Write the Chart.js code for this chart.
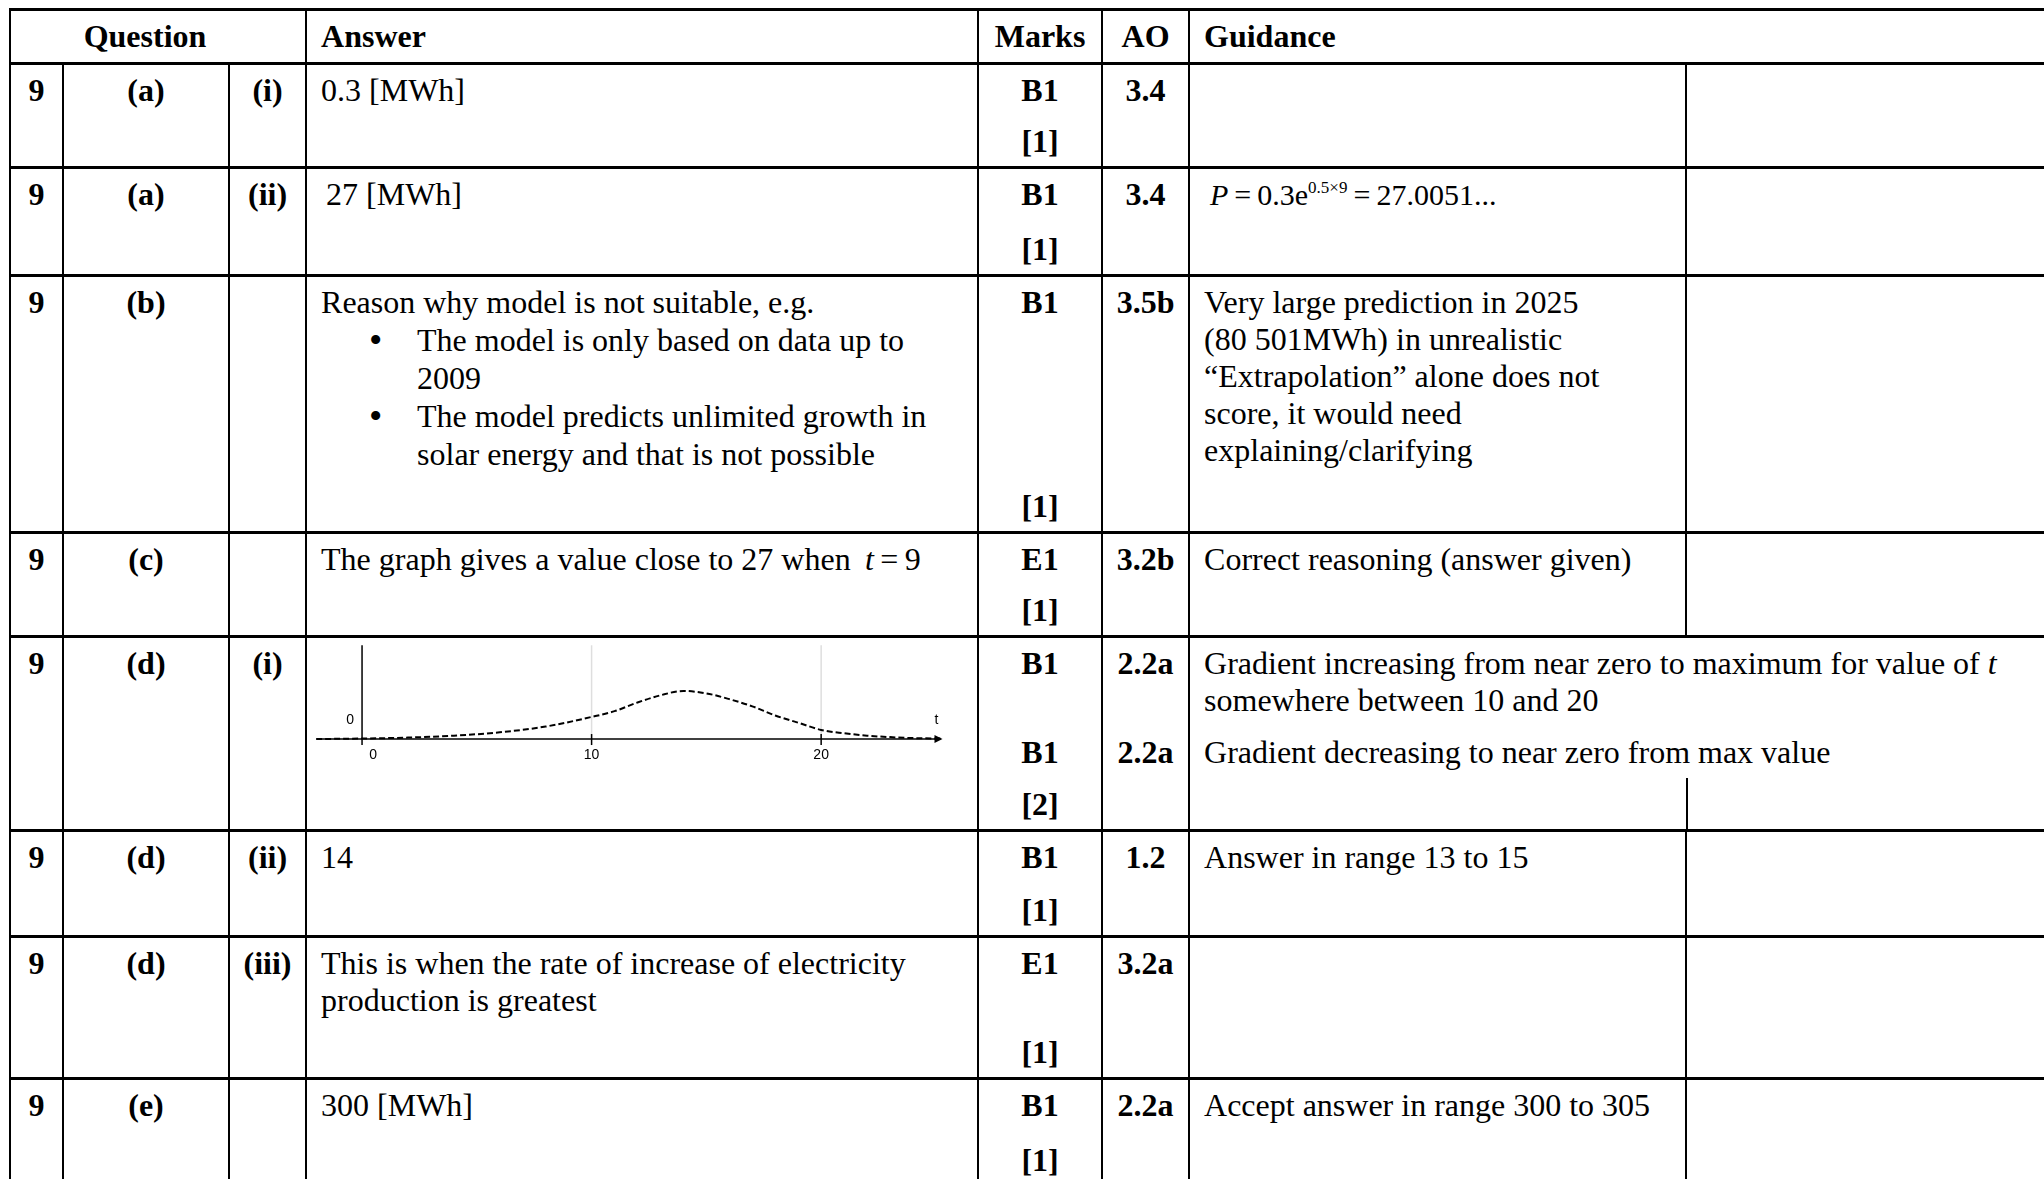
<!DOCTYPE html>
<html>
<head>
<meta charset="utf-8">
<script src="https://cdn.jsdelivr.net/npm/chart.js@4.4.1/dist/chart.umd.min.js"></script>
<style>
  html, body { margin: 0; padding: 0; background: #fff; }
  body { width: 2044px; height: 1179px; overflow: hidden; position: relative;
         font-family: "Liberation Serif", "Times New Roman", serif; font-size: 32px; color: #000; }
  table { position: absolute; left: 9px; top: 8px; border-collapse: collapse; table-layout: fixed; width: 2080px; }
  td { border-top: 3px solid #000; border-bottom: 3px solid #000; border-left: 2px solid #000; border-right: 2px solid #000;
       vertical-align: top; padding: 7px 0 0 0; line-height: 37px; position: relative; }
  .b { font-weight: bold; }
  .c { text-align: center; }
  .l { padding-left: 14px; }
  .bot { position: absolute; left: 0; right: 0; bottom: 6px; text-align: center; font-weight: bold; }
  .mid { position: absolute; left: 0; right: 0; top: 96px; }
  .bul { position: relative; padding-left: 96px; line-height: 38px; }
  .bul:before { content: "\2022"; position: absolute; left: 48px; font-size: 38px; }
  .split { position: absolute; left: 496px; top: 140px; bottom: -2px; width: 2px; background: #000; }
  #chartBox { position: absolute; left: 312px; top: 640px; width: 640px; height: 150px; z-index: 2; }
</style>
</head>
<body>
<table>
  <colgroup>
    <col style="width:53px"><col style="width:166px"><col style="width:77px"><col style="width:672px">
    <col style="width:124px"><col style="width:87px"><col style="width:497px"><col style="width:404px">
  </colgroup>
  <tr style="height:54px">
    <td colspan="3" class="b c" style="padding-right:26px">Question</td>
    <td class="b l">Answer</td>
    <td class="b c">Marks</td>
    <td class="b c">AO</td>
    <td colspan="2" class="b l">Guidance</td>
  </tr>
  <tr style="height:104px">
    <td class="b c">9</td><td class="b c">(a)</td><td class="b c">(i)</td>
    <td class="l">0.3 [MWh]</td>
    <td class="b c">B1<span class="bot">[1]</span></td>
    <td class="b c">3.4</td>
    <td></td><td></td>
  </tr>
  <tr style="height:108px">
    <td class="b c">9</td><td class="b c">(a)</td><td class="b c">(ii)</td>
    <td class="l" style="padding-left:19px">27 [MWh]</td>
    <td class="b c">B1<span class="bot">[1]</span></td>
    <td class="b c">3.4</td>
    <td class="l" style="padding-left:20px;font-size:30px"><i>P</i>&#8201;=&#8201;0.3e<sup style="font-size:17px;vertical-align:12px;line-height:0">0.5&#215;9</sup>&#8201;=&#8201;27.0051...</td>
    <td></td>
  </tr>
  <tr style="height:257px">
    <td class="b c">9</td><td class="b c">(b)</td><td></td>
    <td class="l">Reason why model is not suitable, e.g.
      <div class="bul">The model is only based on data up to<br>2009</div>
      <div class="bul">The model predicts unlimited growth in<br>solar energy and that is not possible</div>
    </td>
    <td class="b c">B1<span class="bot">[1]</span></td>
    <td class="b c">3.5b</td>
    <td class="l">Very large prediction in 2025<br>(80 501MWh) in unrealistic<br>&#8220;Extrapolation&#8221; alone does not<br>score, it would need<br>explaining/clarifying</td>
    <td></td>
  </tr>
  <tr style="height:104px">
    <td class="b c">9</td><td class="b c">(c)</td><td></td>
    <td class="l">The graph gives a value close to 27 when &#8201;<i>t</i>&#8201;=&#8201;9</td>
    <td class="b c">E1<span class="bot">[1]</span></td>
    <td class="b c">3.2b</td>
    <td class="l">Correct reasoning (answer given)</td>
    <td></td>
  </tr>
  <tr style="height:194px">
    <td class="b c">9</td><td class="b c">(d)</td><td class="b c">(i)</td>
    <td></td>
    <td class="b c">B1<div class="mid">B1</div><span class="bot">[2]</span></td>
    <td class="b c">2.2a<div class="mid">2.2a</div></td>
    <td colspan="2" class="l">Gradient increasing from near zero to maximum for value of <i>t</i><br>somewhere between 10 and 20
      <div class="mid" style="left:14px">Gradient decreasing to near zero from max value</div>
      <div class="split"></div>
    </td>
  </tr>
  <tr style="height:106px">
    <td class="b c">9</td><td class="b c">(d)</td><td class="b c">(ii)</td>
    <td class="l">14</td>
    <td class="b c">B1<span class="bot">[1]</span></td>
    <td class="b c">1.2</td>
    <td class="l">Answer in range 13 to 15</td>
    <td></td>
  </tr>
  <tr style="height:142px">
    <td class="b c">9</td><td class="b c">(d)</td><td class="b c">(iii)</td>
    <td class="l">This is when the rate of increase of electricity<br>production is greatest</td>
    <td class="b c">E1<span class="bot">[1]</span></td>
    <td class="b c">3.2a</td>
    <td></td><td></td>
  </tr>
  <tr style="height:108px">
    <td class="b c">9</td><td class="b c">(e)</td><td></td>
    <td class="l">300 [MWh]</td>
    <td class="b c">B1<span class="bot">[1]</span></td>
    <td class="b c">2.2a</td>
    <td class="l">Accept answer in range 300 to 305</td>
    <td></td>
  </tr>
</table>

<div id="chartBox"><canvas id="gradChart"></canvas></div>

<script>
// sketch of the gradient dP/dt against t
const tValues = [-2, 0, 2, 4, 6, 8, 10, 11, 12, 13, 14, 15, 16, 17, 18, 19, 20, 21, 22, 23, 24, 25.2];
const gradientValues = [0, 0.01, 0.03, 0.07, 0.14, 0.26, 0.46, 0.58, 0.76, 0.91, 1.0, 0.95, 0.83, 0.68, 0.49, 0.34, 0.19, 0.12, 0.07, 0.04, 0.02, 0.01];
const xTickValues = [0, 10, 20];
const xTickLabels = ["0", "10", "20"];

const points = tValues.map((t, i) => ({ x: t, y: gradientValues[i] }));

// axes are hand drawn like the sketch: y axis at t=0, x axis with an arrow
const sketchAxes = {
  id: 'sketchAxes',
  beforeDatasetsDraw(chart) {
    const { ctx } = chart;
    const x = chart.scales.x, y = chart.scales.y;
    const x0 = x.getPixelForValue(0), y0 = y.getPixelForValue(0);
    const yTop = y.getPixelForValue(1.95);
    const xl = x.getPixelForValue(-1.9), xr = x.getPixelForValue(25.2);
    function seg(a, b, c, d) { ctx.beginPath(); ctx.moveTo(a, b); ctx.lineTo(c, d); ctx.stroke(); }
    ctx.save();
    ctx.strokeStyle = '#dedede';
    ctx.lineWidth = 1.5;
    xTickValues.forEach(t => { if (t !== 0) { const px = x.getPixelForValue(t); seg(px, yTop, px, y0); } });
    ctx.strokeStyle = '#000';
    ctx.lineWidth = 1.5;
    xTickValues.forEach(t => { if (t !== 0) { const px = x.getPixelForValue(t); seg(px, y0 - 5, px, y0 + 6); } });
    seg(x0, yTop, x0, y0 + 6);
    seg(xl, y0, xr, y0);
    ctx.beginPath();
    ctx.moveTo(xr + 2, y0); ctx.lineTo(xr - 6, y0 - 4); ctx.lineTo(xr - 6, y0 + 4); ctx.closePath();
    ctx.fillStyle = '#000'; ctx.fill();
    ctx.font = '14px "Liberation Sans", Arial, sans-serif';
    ctx.textAlign = 'center';
    ctx.textBaseline = 'middle';
    xTickValues.forEach((t, i) => {
      const px = x.getPixelForValue(t) + (t === 0 ? 11 : 0);
      ctx.fillText(xTickLabels[i], px, y0 + 16);
    });
    ctx.fillText('0', x0 - 12, y0 - 19);
    ctx.fillText('t', xr - 4, y0 - 19);
    ctx.restore();
  }
};

new Chart(document.getElementById('gradChart').getContext('2d'), {
  type: 'line',
  data: {
    datasets: [{
      data: points,
      borderColor: '#000',
      borderWidth: 2,
      borderDash: [6, 3],
      pointRadius: 0,
      fill: false,
      cubicInterpolationMode: 'monotone'
    }]
  },
  options: {
    responsive: true,
    maintainAspectRatio: false,
    animation: false,
    layout: { padding: 0 },
    plugins: { legend: { display: false }, tooltip: { enabled: false } },
    scales: {
      x: { type: 'linear', display: false, min: -2.18, max: 25.7 },
      y: { display: false, min: -1.06, max: 2.06 }
    }
  },
  plugins: [sketchAxes]
});
</script>
</body>
</html>
